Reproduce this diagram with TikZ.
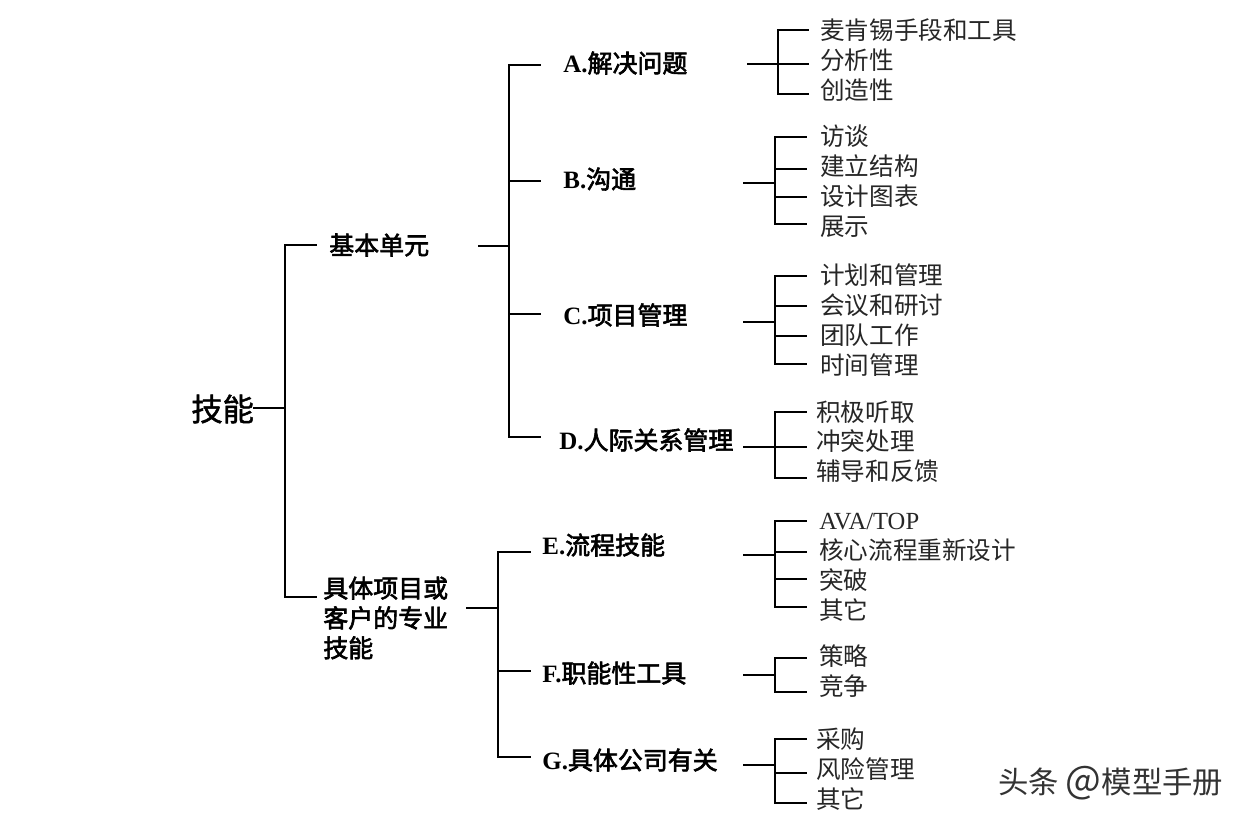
\documentclass[tikz,border=0pt]{standalone}
\usepackage{fontspec}
\setmainfont{Liberation Serif}
\newfontfamily\cjk{Noto Sans CJK SC}
\newfontfamily\cjkb[FakeBold=2.4]{Noto Sans CJK SC}
\newfontfamily\cjkm[FakeBold=1.5]{Noto Sans CJK SC}
\tikzset{
    conn/.style={line width=0.036cm, line cap=rect},
    leaf/.style={anchor=west, inner xsep=#1*0.02cm, inner ysep=0pt, text height=0.4cm, text depth=0.08cm,
        font=\fontsize{14}{17}\selectfont\cjk, text=black!85},
    unit/.style={anchor=west, inner sep=0pt, text height=0.42cm, text depth=0.08cm, text width=#1*0.02cm,
        font=\fontsize{14.2}{17}\selectfont\cjkb},
}
\newcommand{\lat}[1]{{\rmfamily\bfseries #1}}
\begin{document}
\begin{tikzpicture}[x=0.02cm, y=-0.02cm]
    \useasboundingbox (0,0) rectangle (1250,822);

    \node[anchor=west, inner sep=0pt, font=\fontsize{17.8}{20}\selectfont\cjkm] (skill) at (191,409) {技能};
    \node[unit=149] (basic) at (329,246) {基本单元};
    \node[unit=143, align=left, text height=, text depth=] (special) at (323,618) {具体项目或\\客户的专业\\技能};

    \coordinate (skillJ) at (285,408);
    \draw[conn] (skill.east |- skillJ) -- (skillJ);
    \draw[conn] (skillJ |- 0,245) -- (skillJ |- 0,597);
    \draw[conn] (skillJ |- 0,245) -- (316,245);
    \draw[conn] (skillJ |- 0,597) -- (316,597);

    % upper units
    \coordinate (basicJ) at (509,246);
    \draw[conn] (basic.east |- basicJ) -- (basicJ);
    \draw[conn] (basicJ |- 0,65) -- (basicJ |- 0,437);
    \foreach \n/\x/\y/\sy/\w/\t in {A/563/64/65/184/解决问题, B/563/180/181/180/沟通, C/563/316/314/180/项目管理, D/559/441/437/184/人际关系管理} {
        \node[unit=\w] (\n) at (\x,\y) {\lat{\n.}\t};
        \draw[conn] (basicJ |- 0,\sy) -- (540,\sy);
    }

    % lower units
    \coordinate (specialJ) at (498,608);
    \draw[conn] (special.east |- specialJ) -- (specialJ);
    \draw[conn] (specialJ |- 0,552) -- (specialJ |- 0,757);
    \foreach \n/\y/\sy/\t in {E/546/552/流程技能, F/674/671/职能性工具, G/761/757/具体公司有关} {
        \node[unit=201] (\n) at (542,\y) {\lat{\n.}\t};
        \draw[conn] (specialJ |- 0,\sy) -- (530,\sy);
    }

    % leaves
    \coordinate (AJ) at (778,64);
    \draw[conn] (A.east |- AJ) -- (AJ);
    \draw[conn] (AJ |- 0,30) -- (AJ |- 0,94);
    \foreach \n/\y/\sy/\t in {a1/31/30/麦肯锡手段和工具, a2/61/64/分析性, a3/91/94/创造性} {
        \node[leaf=12] (\n) at (808,\y) {\t};
        \draw[conn] (AJ |- 0,\sy) -- (\n.west |- 0,\sy);
    }

    \coordinate (BJ) at (775,183);
    \draw[conn] (B.east |- BJ) -- (BJ);
    \draw[conn] (BJ |- 0,137) -- (BJ |- 0,224);
    \foreach \n/\y/\sy/\t in {b1/137/137/访谈, b2/167/169/建立结构, b3/197/197/设计图表, b4/227/224/展示} {
        \node[leaf=14] (\n) at (806,\y) {\t};
        \draw[conn] (BJ |- 0,\sy) -- (\n.west |- 0,\sy);
    }

    \coordinate (CJ) at (775,322);
    \draw[conn] (C.east |- CJ) -- (CJ);
    \draw[conn] (CJ |- 0,276) -- (CJ |- 0,364);
    \foreach \n/\y/\sy/\t in {c1/276/276/计划和管理, c2/306/306/会议和研讨, c3/336/336/团队工作, c4/366/364/时间管理} {
        \node[leaf=14] (\n) at (806,\y) {\t};
        \draw[conn] (CJ |- 0,\sy) -- (\n.west |- 0,\sy);
    }

    \coordinate (DJ) at (775,447);
    \draw[conn] (D.east |- DJ) -- (DJ);
    \draw[conn] (DJ |- 0,412) -- (DJ |- 0,478);
    \foreach \n/\y/\sy/\t in {d1/413/412/积极听取, d2/442/447/冲突处理, d3/472/478/辅导和反馈} {
        \node[leaf=10] (\n) at (806,\y) {\t};
        \draw[conn] (DJ |- 0,\sy) -- (\n.west |- 0,\sy);
    }

    \coordinate (EJ) at (775,555);
    \draw[conn] (E.east |- EJ) -- (EJ);
    \draw[conn] (EJ |- 0,521) -- (EJ |- 0,607);
    \foreach \n/\y/\sy/\t in {e1/521/521/{\rmfamily AVA/TOP}, e2/551/552/核心流程重新设计, e3/581/579/突破, e4/611/607/其它} {
        \node[leaf=13] (\n) at (806,\y) {\t};
        \draw[conn] (EJ |- 0,\sy) -- (\n.west |- 0,\sy);
    }

    \coordinate (FJ) at (775,675);
    \draw[conn] (F.east |- FJ) -- (FJ);
    \draw[conn] (FJ |- 0,658) -- (FJ |- 0,692);
    \foreach \n/\y/\sy/\t in {f1/657/658/策略, f2/687/692/竞争} {
        \node[leaf=13] (\n) at (806,\y) {\t};
        \draw[conn] (FJ |- 0,\sy) -- (\n.west |- 0,\sy);
    }

    \coordinate (GJ) at (775,765);
    \draw[conn] (G.east |- GJ) -- (GJ);
    \draw[conn] (GJ |- 0,739) -- (GJ |- 0,803);
    \foreach \n/\y/\sy/\t in {g1/740/739/采购, g2/770/773/风险管理, g3/800/803/其它} {
        \node[leaf=10] (\n) at (806,\y) {\t};
        \draw[conn] (GJ |- 0,\sy) -- (\n.west |- 0,\sy);
    }

    \node[anchor=west, inner sep=0pt, text=black!80, font=\fontsize{17.3}{20}\selectfont\cjk] (mark) at (998,783) {头条 {\fontsize{21.5}{20}\selectfont @}模型手册};
\end{tikzpicture}
\end{document}
